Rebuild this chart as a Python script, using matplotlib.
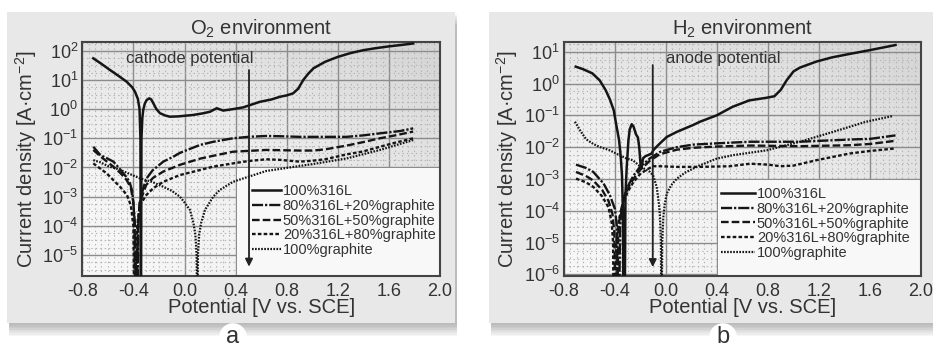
import numpy as np
import matplotlib
matplotlib.use('Agg')
import matplotlib.pyplot as plt
from matplotlib.patches import Rectangle
from matplotlib.lines import Line2D
from matplotlib.colors import LinearSegmentedColormap
from matplotlib.ticker import FixedLocator, MultipleLocator, LogFormatterSciNotation, NullFormatter

plt.rcParams['font.family'] = ['Liberation Sans', 'DejaVu Sans']
plt.rcParams['mathtext.fontset'] = 'custom'
plt.rcParams['mathtext.rm'] = 'Liberation Sans'
plt.rcParams['mathtext.it'] = 'Liberation Sans:italic'
plt.rcParams['mathtext.bf'] = 'Liberation Sans:bold'
plt.rcParams['axes.unicode_minus'] = False
plt.rcParams['lines.scale_dashes'] = False

# ---------------- data (potential in V vs SCE, log10 of current density in A/cm2) -------------
labels = ['100%316L', '80%316L+20%graphite', '50%316L+50%graphite',
          '20%316L+80%graphite', '100%graphite']

# O2 environment
o2_316l_E = [-0.714, -0.65, -0.583, -0.52, -0.453, -0.41, -0.388, -0.365, -0.352, -0.345, -0.341,
             -0.337, -0.33, -0.323, -0.31, -0.296, -0.276, -0.26, -0.244, -0.22, -0.192, -0.15,
             -0.114, -0.05, 0.069, 0.15, 0.2, 0.252, 0.303, 0.38, 0.46, 0.59, 0.68, 0.749, 0.80,
             0.85, 0.89, 0.93, 0.97, 1.01, 1.1, 1.2, 1.3, 1.4, 1.5, 1.6, 1.7, 1.79]
o2_316l_logi = [1.74, 1.55, 1.34, 1.15, 0.94, 0.75, 0.6, 0.35, 0.0, -1.0, -8,
                -1.0, -0.3, -0.03, 0.2, 0.31, 0.37, 0.33, 0.2, 0.0, -0.14, -0.22,
                -0.26, -0.25, -0.2, -0.14, -0.09, 0.03, -0.05, 0.0, 0.06, 0.25, 0.33, 0.425, 0.47,
                0.54, 0.7, 1.0, 1.22, 1.4, 1.62, 1.79, 1.92, 2.02, 2.09, 2.15, 2.2, 2.25]

o2_80_E = [-0.714, -0.66, -0.6, -0.557, -0.52, -0.48, -0.45, -0.427, -0.41, -0.40, -0.39, -0.382, -0.376,
           -0.37, -0.362, -0.35, -0.32, -0.296, -0.25, -0.166, -0.087, -0.036, 0.12, 0.225, 0.38, 0.5,
           0.64, 0.75, 0.9, 1.0, 1.1, 1.27, 1.4, 1.53, 1.69, 1.79]
o2_80_logi = [-1.29, -1.57, -1.7, -1.8, -1.98, -2.2, -2.35, -2.54, -2.8, -3.23, -3.8, -5.0, -8,
              -8, -4.0, -3.2, -2.66, -2.37, -2.1, -1.8, -1.63, -1.5, -1.23, -1.12, -1.0, -0.95,
              -0.92, -0.93, -0.95, -0.95, -0.95, -0.95, -0.9, -0.83, -0.75, -0.66]

o2_50_E = [-0.714, -0.65, -0.557, -0.5, -0.453, -0.42, -0.40, -0.39, -0.382,
           -0.375, -0.365, -0.35, -0.3, -0.244, -0.166, -0.036, 0.12, 0.225, 0.38, 0.64, 0.9,
           1.01, 1.1, 1.27, 1.4, 1.53, 1.65, 1.79]
o2_50_logi = [-1.40, -1.65, -1.97, -2.2, -2.43, -2.7, -3.2, -4.0, -8,
              -8, -4.0, -3.2, -2.6, -2.35, -2.14, -1.91, -1.7, -1.6, -1.46, -1.4, -1.42,
              -1.42, -1.38, -1.25, -1.13, -1.0, -0.9, -0.77]

o2_20_E = [-0.714, -0.61, -0.505, -0.45, -0.42, -0.40, -0.39,
           -0.385, -0.37, -0.35, -0.3, -0.244, -0.166, -0.036, 0.12, 0.225, 0.38, 0.5, 0.64, 0.75,
           0.9, 1.0, 1.1, 1.27, 1.4, 1.53, 1.65, 1.79]
o2_20_logi = [-1.86, -2.2, -2.66, -2.95, -3.3, -4.0, -8,
              -8, -4.0, -3.3, -2.95, -2.71, -2.49, -2.26, -2.09, -1.97, -1.86, -1.78, -1.72, -1.74,
              -1.8, -1.77, -1.72, -1.55, -1.45, -1.29, -1.15, -1.0]

o2_gr_E = [-0.714, -0.66, -0.6, -0.505, -0.43, -0.35, -0.25, -0.167, -0.1, -0.036, 0.0, 0.043,
           0.07, 0.085, 0.095, 0.1, 0.105, 0.115, 0.13, 0.16, 0.225, 0.277, 0.38, 0.5, 0.64, 0.75,
           0.9, 1.01, 1.27, 1.53, 1.79]
o2_gr_logi = [-1.75, -1.82, -1.95, -2.08, -2.22, -2.37, -2.5, -2.66, -2.8, -3.0, -3.2, -3.46,
              -3.9, -4.3, -5.0, -8, -5.0, -4.3, -3.9, -3.46, -3.0, -2.77, -2.49, -2.32, -2.12, -2.05,
              -1.95, -1.88, -1.69, -1.4, -1.06]

# H2 environment
h2_316l_E = [-0.708, -0.65, -0.578, -0.52, -0.473, -0.44, -0.41, -0.39, -0.368, -0.355, -0.345,
             -0.338, -0.333, -0.325, -0.318, -0.308, -0.295, -0.285, -0.269, -0.255, -0.235, -0.22,
             -0.21, -0.2, -0.192, -0.18, -0.16, -0.14, -0.113, -0.1, -0.087, -0.047, 0.006, 0.085,
             0.215, 0.267, 0.398, 0.523, 0.654, 0.785, 0.85, 0.9, 0.946, 1.0, 1.05, 1.18, 1.3,
             1.44, 1.6, 1.8]
h2_316l_logi = [0.53, 0.45, 0.32, 0.1, -0.21, -0.5, -0.84, -1.3, -1.78, -2.3, -2.9,
                -4.0, -8, -8, -3.5, -2.62, -1.8, -1.45, -1.28, -1.35, -1.6, -1.7,
                -2.0, -2.52, -2.65, -2.35, -2.28, -2.25, -2.2, -2.1, -2.04, -1.88, -1.68, -1.52,
                -1.3, -1.2, -1.0, -0.73, -0.53, -0.45, -0.4, -0.2, 0.1, 0.38, 0.5, 0.69, 0.82,
                0.93, 1.05, 1.21]

h2_80_E = [-0.706, -0.63, -0.57, -0.49, -0.44, -0.4, -0.385, -0.375,
           -0.37, -0.36, -0.35, -0.33, -0.308, -0.256, -0.204, -0.125, -0.047, 0.085, 0.215, 0.398,
           0.66, 1.05, 1.44, 1.6, 1.8]
h2_80_logi = [-2.55, -2.65, -2.78, -3.14, -3.51, -3.95, -4.5, -8,
              -8, -4.5, -4.0, -3.6, -3.3, -2.9, -2.62, -2.35, -2.15, -2.0, -1.92, -1.88,
              -1.83, -1.83, -1.76, -1.74, -1.63]

h2_50_E = [-0.706, -0.63, -0.57, -0.5, -0.45, -0.42, -0.405, -0.395,
           -0.385, -0.375, -0.36, -0.33, -0.3, -0.256, -0.204, -0.125, -0.047, 0.085, 0.215, 0.398,
           0.66, 1.05, 1.44, 1.6, 1.8]
h2_50_logi = [-2.78, -2.9, -3.05, -3.35, -3.7, -4.1, -4.7, -8,
              -8, -4.7, -4.1, -3.6, -3.3, -3.0, -2.72, -2.42, -2.22, -2.08, -2.02, -1.98,
              -1.95, -1.97, -1.94, -1.9, -1.8]

h2_20_E = [-0.706, -0.63, -0.57, -0.5, -0.45, -0.425, -0.415, -0.41,
           -0.40, -0.39, -0.37, -0.33, -0.3, -0.256, -0.204, -0.15, -0.1, -0.047, 0.085, 0.267,
           0.5, 0.66, 0.8, 0.9, 1.0, 1.18, 1.44, 1.6, 1.8]
h2_20_logi = [-2.99, -3.1, -3.25, -3.55, -3.9, -4.4, -5.0, -8,
              -8, -5.0, -4.3, -3.7, -3.4, -3.1, -2.85, -2.7, -2.6, -2.6, -2.62, -2.62,
              -2.6, -2.52, -2.55, -2.6, -2.58, -2.41, -2.2, -2.12, -2.04]

h2_gr_E = [-0.714, -0.67, -0.627, -0.57, -0.523, -0.44, -0.392, -0.308, -0.261, -0.204, -0.125,
           -0.1, -0.073, -0.055, -0.047, -0.04, -0.035, -0.03, -0.021, -0.01, 0.006, 0.04, 0.085,
           0.15, 0.215, 0.267, 0.398, 0.528, 0.79, 1.05, 1.31, 1.57, 1.78]
h2_gr_logi = [-1.2, -1.5, -1.75, -1.9, -1.99, -2.1, -2.2, -2.36, -2.41, -2.6, -2.78,
              -2.9, -3.25, -3.8, -4.2, -5.0, -8, -5.0, -4.2, -3.8, -3.46, -3.2, -2.99,
              -2.8, -2.67, -2.57, -2.36, -2.25, -2.1, -1.83, -1.52, -1.2, -1.02]

x_ticks = [-0.8, -0.4, 0.0, 0.4, 0.8, 1.2, 1.6, 2.0]

# ---------------- styling -------------
line_col = '#151515'
text_col = '#333333'
styles = [dict(ls='-', lw=1.8),
          dict(ls=(0, (8.0, 1.4, 1.6, 1.4)), lw=1.7),
          dict(ls=(0, (5.5, 2.2)), lw=1.7),
          dict(ls=(0, (2.6, 1.6)), lw=1.7),
          dict(ls=(0, (1.2, 1.0)), lw=1.6)]

W, H = 933, 348
fig = plt.figure(figsize=(W / 100, H / 100), dpi=100)
fig.patch.set_facecolor('white')


def fx(px):
    return px / W


def fy(py):
    return 1 - py / H


# cards with soft shadows
for (x0, x1) in [(7, 455), (489, 945)]:
    for k in range(8):
        off = 2 + k * 1.6
        fig.add_artist(Rectangle((fx(x0 + 2), fy(323 + off)), fx(x1 - x0), fy(12) - fy(323),
                                 transform=fig.transFigure, facecolor='#000000', alpha=0.035,
                                 edgecolor='none', zorder=-20))
    fig.add_artist(Rectangle((fx(x0), fy(323)), fx(x1 - x0), fy(12) - fy(323),
                             transform=fig.transFigure, facecolor='#e8e8e8', edgecolor='none',
                             zorder=-10))

bg_cmap = LinearSegmentedColormap.from_list('bg', ['#f7f7f7', '#d6d6d6'])
gx, gy = np.meshgrid(np.linspace(0, 1, 200), np.linspace(0, 1, 200))
grad = np.clip(0.5 * gx ** 1.6 + 0.6 * gy ** 2.0, 0, 1)

panels = [
    dict(px=(82.3, 440), ylim=(-5.72, 2.30), yt=range(-5, 3), title='O$_2$ environment',
         series=[(o2_316l_E, o2_316l_logi), (o2_80_E, o2_80_logi), (o2_50_E, o2_50_logi),
                 (o2_20_E, o2_20_logi), (o2_gr_E, o2_gr_logi)],
         arrow_x=0.505, arrow_y=(1.34, -5.4), text='cathode potential', text_xy=(-0.46, 1.75),
         legbox=(0.432, 0.46), leg_anchor=(0.475, 0.392), handlelen=1.95, letter='a', letter_x=233),
    dict(px=(564, 921), ylim=(-6.05, 1.305), yt=range(-6, 2), title='H$_2$ environment',
         series=[(h2_316l_E, h2_316l_logi), (h2_80_E, h2_80_logi), (h2_50_E, h2_50_logi),
                 (h2_20_E, h2_20_logi), (h2_gr_E, h2_gr_logi)],
         arrow_x=-0.104, arrow_y=(0.58, -5.77), text='anode potential', text_xy=(0.0, 0.8),
         legbox=(0.43, 0.41), leg_anchor=(0.44, 0.38), handlelen=2.3, letter='b', letter_x=723),
]

for p in panels:
    x0, x1 = p['px']
    pos = [fx(x0), fy(276), fx(x1) - fx(x0), fy(42) - fy(276)]
    bg = fig.add_axes(pos, zorder=0)
    bg.imshow(grad, extent=[0, 1, 0, 1], origin='lower', aspect='auto', cmap=bg_cmap,
              vmin=0, vmax=1)
    bg.set_axis_off()

    ax = fig.add_axes(pos, zorder=1)
    ax.patch.set_alpha(0)
    ax.set_yscale('log')
    ax.set_xlim(-0.8, 2.0)
    ax.set_ylim(10 ** p['ylim'][0], 10 ** p['ylim'][1])
    ax.set_axisbelow(True)

    ax.xaxis.set_major_locator(FixedLocator(x_ticks))
    ax.xaxis.set_minor_locator(MultipleLocator(0.05))
    ax.set_xticklabels([f'{v:.1f}' for v in x_ticks])
    ax.yaxis.set_major_locator(FixedLocator([10.0 ** e for e in p['yt']]))
    minors = [10.0 ** (e + f) for e in range(-7, 3) for f in (0.25, 0.5, 0.75)]
    ax.yaxis.set_minor_locator(FixedLocator(minors))
    ax.yaxis.set_major_formatter(LogFormatterSciNotation())
    ax.yaxis.set_minor_formatter(NullFormatter())

    ax.grid(which='major', color='#8c8c8c', lw=1.0, ls='-')
    ax.grid(which='minor', color='#b4b4b4', lw=0.8, ls=(0, (1, 2.2)))
    ax.tick_params(which='both', length=0)
    ax.tick_params(axis='x', labelsize=13, pad=5, colors=text_col)
    ax.tick_params(axis='y', labelsize=13, pad=3, colors=text_col)
    for s in ax.spines.values():
        s.set_color('#444444')
        s.set_linewidth(1.5)

    # legend area box
    ax.add_patch(Rectangle((p['legbox'][0], 0), 1 - p['legbox'][0], p['legbox'][1],
                           transform=ax.transAxes, facecolor='#f8f8f8', edgecolor='none',
                           zorder=1))

    handles = []
    for (E, li), st, lab in zip(p['series'], styles, labels):
        ax.plot(E, 10.0 ** np.asarray(li), color=line_col, zorder=3, **st)
        handles.append(Line2D([], [], color=line_col, **st))

    ax.annotate('', xy=(p['arrow_x'], 10 ** p['arrow_y'][1]),
                xytext=(p['arrow_x'], 10 ** p['arrow_y'][0]),
                arrowprops=dict(arrowstyle='-|>', color='#222222', lw=1.3, mutation_scale=11,
                                shrinkA=0, shrinkB=0), zorder=4)
    ax.text(p['text_xy'][0], 10 ** p['text_xy'][1], p['text'], fontsize=12, color=text_col,
            ha='left', va='center', zorder=4)

    leg = ax.legend(handles, labels, loc='upper left', bbox_to_anchor=p['leg_anchor'],
                    frameon=False, fontsize=10.5, handlelength=p['handlelen'],
                    handletextpad=0.15, labelspacing=0.05, borderpad=0, borderaxespad=0)
    for t in leg.get_texts():
        t.set_color(text_col)
    leg.set_zorder(5)

    ax.set_title(p['title'], fontsize=14.5, color=text_col, pad=5)
    ax.set_xlabel('Potential [V vs. SCE]', fontsize=14.5, color=text_col)
    ax.set_ylabel('Current density [A·cm$^{-2}$]', fontsize=14.5, color=text_col)
    ax.xaxis.set_label_coords(0.5, -0.095)
    ax.yaxis.set_label_coords(-0.122, 0.5)

    fig.text(fx(p['letter_x']), fy(337), p['letter'], fontsize=17, color=text_col,
             ha='center', va='center',
             bbox=dict(boxstyle='circle,pad=0.12', fc='white', ec='none'))

fig.savefig('out.png', dpi=100)
